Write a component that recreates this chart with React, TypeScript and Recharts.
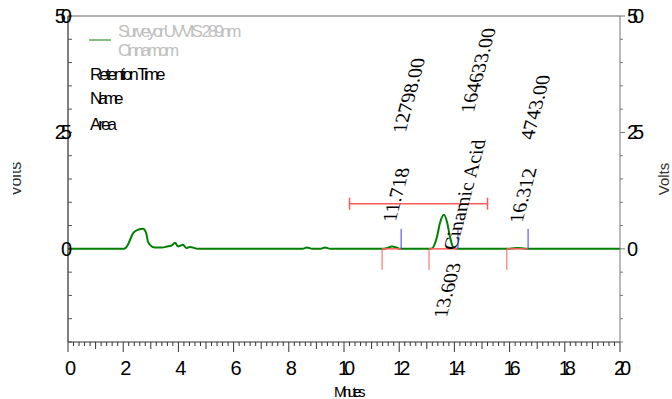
import React from "react";
import {
  ComposedChart, Line, Scatter, XAxis, YAxis, ReferenceLine,
} from "recharts";

// detector trace, minutes vs volts
const traceTime = [
  0, 2.0, 2.07, 2.17, 2.36, 2.54, 2.72, 2.83, 2.9, 3.04, 3.15, 3.4, 3.59, 3.75, 3.88, 3.99, 4.08, 4.17,
  4.28, 4.42, 4.71, 8.5, 8.66, 8.85, 9.15, 9.31, 9.5, 11.4, 11.55, 11.74, 11.9, 12.03, 13.1, 13.19, 13.37,
  13.48, 13.62, 13.73, 13.84, 13.95, 14.09, 15.95, 16.15, 16.3, 16.45, 16.62, 20,
];
const traceVolts = [
  0, 0, 0.1, 0.9, 3.4, 4.1, 4.3, 3.4, 1.5, 0.5, 0.3, 0.3, 0.5, 0.7, 1.3, 0.5, 0.7, 0.9,
  0.2, 0.4, 0, 0, 0.3, 0, 0, 0.3, 0, 0, 0.15, 0.5, 0.3, 0, 0, 0.1, 2.6,
  5.6, 7.3, 5.8, 2.6, 0.4, 0, 0, 0.15, 0.2, 0.15, 0, 0,
];

// integrated peaks
const peakTime = [11.718, 13.603, 16.312];
const peakStart = [11.38, 13.08, 15.9];
const peakEnd = [12.07, 14.13, 16.67];
const peakName = ["", "Cinamic Acid", ""];
const peakArea = ["12798.00", "164633.00", "4743.00"];

// red window bar
const windowFrom = 10.2;
const windowTo = 15.2;
const windowLevel = 9.7;

const xLabels = [0, 2, 4, 6, 8, 10, 12, 14, 16, 18, 20];
const yTicks = [-20, -15, -10, -5, 0, 5, 10, 15, 20, 25, 30, 35, 40, 45, 50];
const yLabels = [0, 25, 50];

const xTicks = Array.from({ length: 101 }, (_, i) => Number((i * 0.2).toFixed(1)));

const trace = traceTime.map((t, i) => ({ t, v: traceVolts[i] }));
const peaks = peakTime.map((t, i) => ({
  t, v: 0, i, name: peakName[i], area: peakArea[i],
}));

// pixel offsets of the rotated peak labels from (retention time, baseline)
const rtOffset = [[4, -27], [3, 69], [4, -26]];
const nameOffset = [13, 1];
const areaOffset = [[14, -116], [30, -136], [15, -109]];

const SANS = "'Liberation Sans', Arial, sans-serif";
const SERIF = "'Liberation Serif', 'Times New Roman', serif";
const RED = "#ff5a5a";
const BLUE = "#3a3aff";
const GREEN = "#008000";

const squish = { fontFamily: SANS, letterSpacing: -3 };

function XTick(props: any) {
  const { x, y, payload } = props;
  const k = Math.round(payload.value * 5);
  const len = k % 10 === 0 ? 10 : k % 5 === 0 ? 7 : 4;
  return (
    <g>
      <line x1={x} x2={x} y1={y} y2={y + len} stroke="#333" />
      {k % 10 === 0 && xLabels.includes(k / 5) && (
        <text x={x} y={y + 33} textAnchor="middle" fontSize={20} fill="#000"
          style={{ fontFamily: SANS, letterSpacing: -5 }}>
          {k / 5}
        </text>
      )}
    </g>
  );
}

function LeftTick(props: any) {
  const { x, y, payload } = props;
  const v = payload.value;
  return (
    <g>
      <line x1={x} x2={x + 4} y1={y} y2={y} stroke="#555" />
      {yLabels.includes(v) && (
        <text x={x - 1} y={y + 7} textAnchor="end" fontSize={20} fill="#000"
          style={{ fontFamily: SANS, letterSpacing: -5 }}>
          {v}
        </text>
      )}
    </g>
  );
}

function RightTick(props: any) {
  const { x, y, payload } = props;
  const v = payload.value;
  const big = yLabels.includes(v);
  return (
    <g>
      <line x1={x} x2={x + (big ? 5 : 3)} y1={y} y2={y} stroke="#777" />
      {big && (
        <text x={x + 7} y={y + 7} textAnchor="start" fontSize={20} fill="#000"
          style={{ fontFamily: SANS, letterSpacing: -5 }}>
          {v}
        </text>
      )}
    </g>
  );
}

function Slanted({ x, y, children }: any) {
  return (
    <text transform={`translate(${x} ${y}) rotate(-90) skewY(15)`} fontSize={20}
      fill="#000" style={{ fontFamily: SERIF }}>
      {children}
    </text>
  );
}

function PeakLabels(props: any) {
  const { cx, cy, payload } = props;
  const i = payload.i;
  return (
    <g>
      <Slanted x={cx + rtOffset[i][0]} y={cy + rtOffset[i][1]}>{payload.t.toFixed(3)}</Slanted>
      {payload.name && (
        <Slanted x={cx + nameOffset[0]} y={cy + nameOffset[1]}>{payload.name}</Slanted>
      )}
      <Slanted x={cx + areaOffset[i][0]} y={cy + areaOffset[i][1]}>{payload.area}</Slanted>
    </g>
  );
}

export default function App() {
  return (
    <div style={{ position: "absolute", left: 0, top: 0, width: 672, height: 399, background: "#fff" }}>
      <ComposedChart width={672} height={399} margin={{ top: 16, right: 0, bottom: 0, left: 0 }}>
        <XAxis dataKey="t" type="number" domain={[0, 20]} ticks={xTicks} interval={0}
          allowDataOverflow height={57} tickSize={0} tickMargin={0} tickLine={false}
          axisLine={{ stroke: "#333" }} tick={<XTick />} />
        <YAxis yAxisId="left" dataKey="v" type="number" domain={[-20, 50]} ticks={yTicks} interval={0}
          allowDataOverflow width={68} tickSize={0} tickMargin={0} tickLine={false}
          axisLine={{ stroke: "#000" }} tick={<LeftTick />} />
        <YAxis yAxisId="right" dataKey="v" orientation="right" type="number" domain={[-20, 50]}
          ticks={yTicks} interval={0} allowDataOverflow width={52} tickSize={0} tickMargin={0}
          tickLine={false} axisLine={{ stroke: "#777" }} tick={<RightTick />} />
        <ReferenceLine yAxisId="left" y={50} stroke="#666" />

        <Line yAxisId="left" data={trace} dataKey="v" type="monotone" stroke={GREEN}
          strokeWidth={2} dot={false} isAnimationActive={false} />

        {peakTime.map((t, i) => (
          <React.Fragment key={t}>
            <ReferenceLine yAxisId="left" stroke={RED} strokeWidth={1.5}
              segment={[{ x: peakStart[i], y: 0 }, { x: peakEnd[i], y: 0 }]} />
            <ReferenceLine yAxisId="left" stroke={RED}
              segment={[{ x: peakStart[i], y: 0 }, { x: peakStart[i], y: -4.5 }]} />
            <ReferenceLine yAxisId="left" stroke={BLUE}
              segment={[{ x: peakEnd[i], y: 0 }, { x: peakEnd[i], y: 4.3 }]} />
          </React.Fragment>
        ))}

        <ReferenceLine yAxisId="left" stroke={RED} strokeWidth={1.5}
          segment={[{ x: windowFrom, y: windowLevel }, { x: windowTo, y: windowLevel }]} />
        <ReferenceLine yAxisId="left" stroke={RED} strokeWidth={1.5}
          segment={[{ x: windowFrom, y: windowLevel - 1.3 }, { x: windowFrom, y: windowLevel + 1.3 }]} />
        <ReferenceLine yAxisId="left" stroke={RED} strokeWidth={1.5}
          segment={[{ x: windowTo, y: windowLevel - 1.3 }, { x: windowTo, y: windowLevel + 1.3 }]} />

        <Scatter yAxisId="right" data={peaks} dataKey="v" shape={<PeakLabels />}
          isAnimationActive={false} />
      </ComposedChart>

      <svg width={672} height={399} style={{ position: "absolute", left: 0, top: 0, pointerEvents: "none" }}>
        <defs>
          <clipPath id="leftcut"><rect x={13} y={0} width={60} height={399} /></clipPath>
        </defs>
        <line x1={89} x2={111} y1={40} y2={40} stroke={GREEN} />
        <text x={118} y={37} fontSize={17} fill="#c0c0c0" style={squish}>Surveyor UVVIS 289nm</text>
        <text x={118} y={56} fontSize={17} fill="#c0c0c0" style={squish}>Cinnamom</text>
        <text x={90} y={80} fontSize={17} fill="#000" style={squish}>Retention Time</text>
        <text x={90} y={104} fontSize={17} fill="#000" style={{ ...squish, letterSpacing: -4 }}>Name</text>
        <text x={90} y={130} fontSize={17} fill="#000" style={squish}>Area</text>
        <text x={348} y={397} fontSize={15} textAnchor="middle" fill="#000"
          style={{ fontFamily: SANS, letterSpacing: -3.5 }}>Minutes</text>
        <text transform="translate(669 179) rotate(-90)" fontSize={15} textAnchor="middle" fill="#333"
          style={{ fontFamily: SANS }}>Volts</text>
        <g clipPath="url(#leftcut)">
          <text transform="translate(21 179) rotate(-90)" fontSize={16} textAnchor="middle" fill="#333"
            style={{ fontFamily: SANS }}>Volts</text>
        </g>
      </svg>
    </div>
  );
}
